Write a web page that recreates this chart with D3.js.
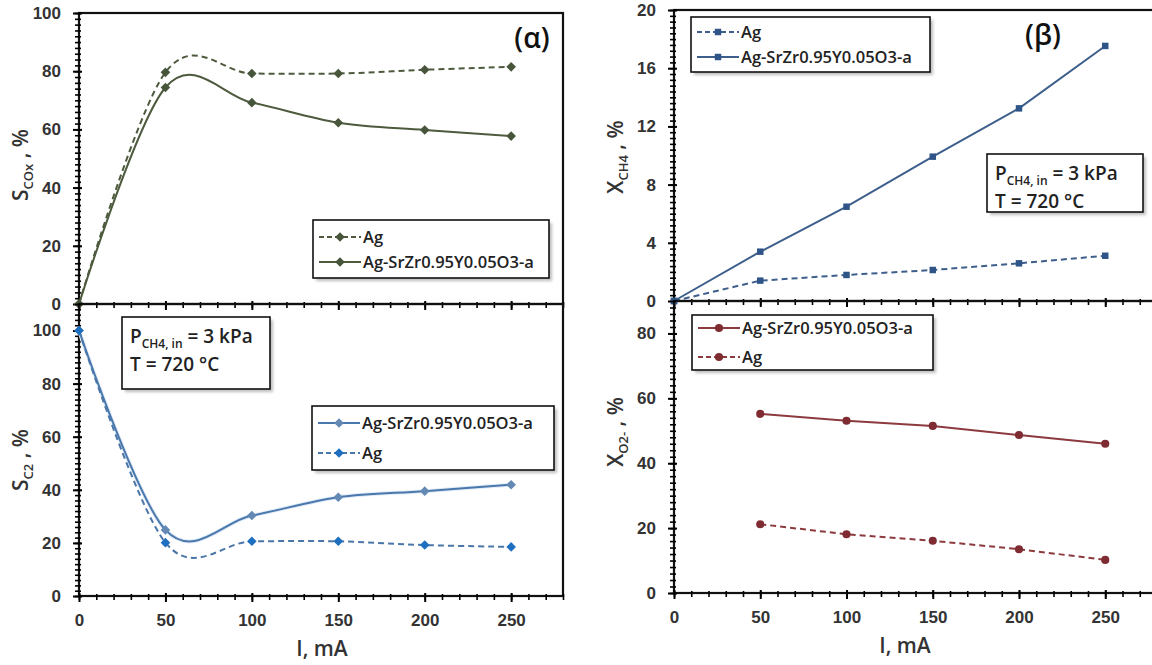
<!DOCTYPE html>
<html>
<head>
<meta charset="utf-8">
<script src="https://cdn.jsdelivr.net/npm/d3@7"></script>
<style>
  body { margin: 0; background: #fff; }
  svg { display: block; font-family: "Open Sans", sans-serif; }
</style>
</head>
<body>
<svg id="chart" width="1152" height="665"></svg>
<script>
// Data
const currents = [0, 50, 100, 150, 200, 250];
const o2Currents = [50, 100, 150, 200, 250];

const scoxAg = [0, 79.6, 79.2, 79.2, 80.5, 81.5];
const scoxComposite = [0, 74.4, 69.2, 62.3, 59.8, 57.7];

const sc2Composite = [100, 24.9, 30.3, 37.2, 39.5, 41.9];
const sc2Ag = [100, 20.1, 20.6, 20.6, 19.2, 18.5];

const xch4Ag = [0, 1.40, 1.79, 2.13, 2.59, 3.11];
const xch4Composite = [0, 3.39, 6.48, 9.92, 13.24, 17.53];

const xo2Composite = [55.2, 53.1, 51.5, 48.7, 46.0];
const xo2Ag = [21.2, 18.1, 16.1, 13.5, 10.2];

const xTicks = [0, 50, 100, 150, 200, 250];
const scoxTicks = [0, 20, 40, 60, 80, 100];
const sc2Ticks = [0, 20, 40, 60, 80, 100];
const xch4Ticks = [0, 4, 8, 12, 16, 20];
const xo2Ticks = [0, 20, 40, 60, 80];

const NAME_AG = "Ag";
const NAME_COMP = "Ag-SrZr0.95Y0.05O3-a";

const svg = d3.select("#chart");

// soft shadow for the boxes
const defs = svg.append("defs");
defs.append("filter").attr("id", "blur")
  .append("feGaussianBlur").attr("stdDeviation", 1.4);

/**
 * Draws one panel frame with its axes and returns the scales
 */
function drawPanel(p) {
  const x = d3.scaleLinear().domain(p.xDomain).range([p.left, p.right]);
  const y = d3.scaleLinear().domain(p.yDomain).range([p.bottom, p.top]);
  const g = svg.append("g");

  g.append("rect")
    .attr("x", p.left).attr("y", p.top)
    .attr("width", p.right - p.left).attr("height", p.bottom - p.top)
    .attr("fill", "none").attr("stroke", "#111").attr("stroke-width", 2.2);

  // minor ticks first, majors on top
  const xMinor = d3.range(0, p.xDomain[1] + 0.001, 10);
  const yMinor = d3.range(0, p.yDomain[1] + 0.001, p.yMinor);

  const gxm = g.append("g").attr("transform", `translate(0,${p.bottom})`)
    .call(d3.axisBottom(x).tickValues(xMinor).tickSize(4).tickFormat(""));
  gxm.selectAll(".tick line").attr("y1", -2).attr("stroke-width", 1.6);

  const gx = g.append("g").attr("transform", `translate(0,${p.bottom})`)
    .call(d3.axisBottom(x).tickValues(xTicks).tickSize(6).tickPadding(12));
  gx.selectAll(".tick line").attr("y1", -3).attr("stroke-width", 2);
  gx.selectAll(".tick text")
    .style("font-size", "17px").style("font-weight", 700).attr("fill", "#333")
    .style("display", p.xLabels ? null : "none");

  const gym = g.append("g").attr("transform", `translate(${p.left},0)`)
    .call(d3.axisLeft(y).tickValues(yMinor).tickSize(4).tickFormat(""));
  gym.selectAll(".tick line").attr("x1", 2).attr("stroke-width", 1.6);

  const gy = g.append("g").attr("transform", `translate(${p.left},0)`)
    .call(d3.axisLeft(y).tickValues(p.yTicks).tickSize(6).tickPadding(p.yPad));
  gy.selectAll(".tick line").attr("x1", 3).attr("stroke-width", 2);
  gy.selectAll(".tick text")
    .style("font-size", "17px").style("font-weight", 700).attr("fill", "#333");

  [gxm, gx, gym, gy].forEach(a => a.select(".domain").remove());

  // rotated y title with subscript
  const t = g.append("text")
    .attr("transform", `translate(${p.titleX},${p.titleY}) rotate(-90)`)
    .attr("text-anchor", "middle")
    .style("font-size", "21px").style("font-weight", 600).attr("fill", "#333");
  t.append("tspan").text(p.title[0]);
  t.append("tspan").text(p.title[1]).style("font-size", "13px").attr("dy", 5);
  t.append("tspan").text(p.title[2]).attr("dy", -5);

  return { x, y, g };
}

function markerPath(kind) {
  if (kind === "diamond") return d3.symbol(d3.symbolSquare, 46)();
  if (kind === "square") return d3.symbol(d3.symbolSquare, 42)();
  return d3.symbol(d3.symbolCircle, 52)();
}

/**
 * Draws one series as a line plus markers
 */
function drawSeries(panel, xs, ys, s) {
  const pts = xs.map((v, i) => [v, ys[i]]);
  const line = d3.line()
    .x(d => panel.x(d[0])).y(d => panel.y(d[1]))
    .curve(s.smooth ? d3.curveCardinal : d3.curveLinear);

  if (s.halo) {
    panel.g.append("path").datum(pts).attr("d", line)
      .attr("fill", "none").attr("stroke", s.halo).attr("stroke-width", 4);
  }
  panel.g.append("path").datum(pts).attr("d", line)
    .attr("fill", "none").attr("stroke", s.color).attr("stroke-width", 2)
    .attr("stroke-dasharray", s.dashed ? "6,4" : null);

  panel.g.selectAll(null).data(pts).join("path")
    .attr("d", markerPath(s.marker))
    .attr("transform", d => `translate(${panel.x(d[0])},${panel.y(d[1])})` + (s.marker === "diamond" ? " rotate(45)" : ""))
    .attr("fill", s.markerColor);
}

function shadowBox(x, y, w, h) {
  svg.append("rect").attr("x", x + 3).attr("y", y + 3).attr("width", w).attr("height", h)
    .attr("fill", "#888").attr("opacity", 0.55).attr("filter", "url(#blur)");
  svg.append("rect").attr("x", x).attr("y", y).attr("width", w).attr("height", h)
    .attr("fill", "#fff").attr("stroke", "#111").attr("stroke-width", 1.6);
}

function drawLegend(box, rows) {
  shadowBox(box.x, box.y, box.w, box.h);
  rows.forEach(r => {
    const x0 = box.x + 6, x1 = box.x + 48;
    svg.append("line").attr("x1", x0).attr("x2", x1).attr("y1", r.y).attr("y2", r.y)
      .attr("stroke", r.s.color).attr("stroke-width", 2)
      .attr("stroke-dasharray", r.s.dashed ? "5,3" : null);
    svg.append("path").attr("d", markerPath(r.s.marker))
      .attr("transform", `translate(${(x0 + x1) / 2},${r.y})` + (r.s.marker === "diamond" ? " rotate(45)" : ""))
      .attr("fill", r.s.markerColor);
    svg.append("text").attr("x", x1 + 2).attr("y", r.y + 6)
      .style("font-size", "16.5px").style("font-weight", 600).attr("fill", "#222")
      .text(r.label);
  });
}

function drawNote(x, y, w, h) {
  shadowBox(x, y, w, h);
  const t = svg.append("text").attr("x", x + 8).attr("y", y + 26)
    .style("font-size", "19px").style("font-weight", 600).attr("fill", "#222");
  t.append("tspan").text("P");
  t.append("tspan").text("CH4, in").style("font-size", "12px").attr("dy", 5);
  t.append("tspan").text(" = 3 kPa").attr("dy", -5);
  svg.append("text").attr("x", x + 8).attr("y", y + 54)
    .style("font-size", "19px").style("font-weight", 600).attr("fill", "#222")
    .text("T = 720 \u00B0C");
}

// series styles
const olive = { color: "#4d5a3d", markerColor: "#47553a", marker: "diamond", smooth: true };
const blueComp = { color: "#4a78ad", halo: "#e2ecf7", markerColor: "#6489b4", marker: "diamond", smooth: true };
const blueAg = { color: "#4a76a8", markerColor: "#1f6fc0", marker: "diamond", smooth: true, dashed: true };
const steel = { color: "#3e5f8c", markerColor: "#2f5588", marker: "square" };
const wine = { color: "#8d3a3f", markerColor: "#7e2b31", marker: "circle" };

// (α) top: S_COx
const pA = drawPanel({ left: 79, right: 563, top: 13, bottom: 304, xDomain: [0, 280], yDomain: [0, 100],
  yTicks: scoxTicks, yMinor: 2, yPad: 12, xLabels: false, title: ["S", "COx", " , %"], titleX: 28, titleY: 165 });
drawSeries(pA, currents, scoxAg, { ...olive, dashed: true });
drawSeries(pA, currents, scoxComposite, olive);

// (α) bottom: S_C2
const pB = drawPanel({ left: 79, right: 563, top: 304, bottom: 596, xDomain: [0, 280], yDomain: [0, 110],
  yTicks: sc2Ticks, yMinor: 2, yPad: 12, xLabels: true, title: ["S", "C2", " , %"], titleX: 28, titleY: 460 });
drawSeries(pB, currents, sc2Composite, blueComp);
drawSeries(pB, currents, sc2Ag, blueAg);

// (β) top: X_CH4
const pC = drawPanel({ left: 674, right: 1157, top: 10, bottom: 301, xDomain: [0, 280], yDomain: [0, 20],
  yTicks: xch4Ticks, yMinor: 0.4, yPad: 12, xLabels: false, title: ["X", "CH4", " , %"], titleX: 623, titleY: 157 });
drawSeries(pC, currents, xch4Ag, { ...steel, dashed: true });
drawSeries(pC, currents, xch4Composite, steel);

// (β) bottom: X_O2-
const pD = drawPanel({ left: 674, right: 1157, top: 301, bottom: 593, xDomain: [0, 280], yDomain: [0, 90],
  yTicks: xo2Ticks, yMinor: 2, yPad: 12, xLabels: true, title: ["X", "O2-", " , %"], titleX: 623, titleY: 432 });
drawSeries(pD, o2Currents, xo2Composite, wine);
drawSeries(pD, o2Currents, xo2Ag, { ...wine, dashed: true });

// x titles
[[322, 656], [905, 653]].forEach(([cx, cy]) => {
  svg.append("text").attr("x", cx).attr("y", cy).attr("text-anchor", "middle")
    .style("font-size", "21px").style("font-weight", 600).attr("fill", "#333").text("I, mA");
});

// panel letters
svg.append("text").attr("x", 532).attr("y", 48).attr("text-anchor", "middle")
  .style("font-size", "28px").style("font-weight", 600).attr("fill", "#111").text("(\u03B1)");
svg.append("text").attr("x", 1043).attr("y", 45).attr("text-anchor", "middle")
  .style("font-size", "28px").style("font-weight", 600).attr("fill", "#111").text("(\u03B2)");

// legends and notes
drawLegend({ x: 313, y: 220, w: 236, h: 58 }, [
  { y: 237, label: NAME_AG, s: { ...olive, dashed: true } },
  { y: 262, label: NAME_COMP, s: olive }
]);
drawLegend({ x: 312, y: 406, w: 242, h: 64 }, [
  { y: 423, label: NAME_COMP, s: blueComp },
  { y: 453, label: NAME_AG, s: blueAg }
]);
drawLegend({ x: 691, y: 17, w: 239, h: 55 }, [
  { y: 32, label: NAME_AG, s: { ...steel, dashed: true } },
  { y: 57, label: NAME_COMP, s: steel }
]);
drawLegend({ x: 692, y: 315, w: 241, h: 55 }, [
  { y: 328, label: NAME_COMP, s: wine },
  { y: 357, label: NAME_AG, s: { ...wine, dashed: true } }
]);

drawNote(122, 317, 148, 72);
drawNote(987, 154, 156, 58);
</script>
</body>
</html>
